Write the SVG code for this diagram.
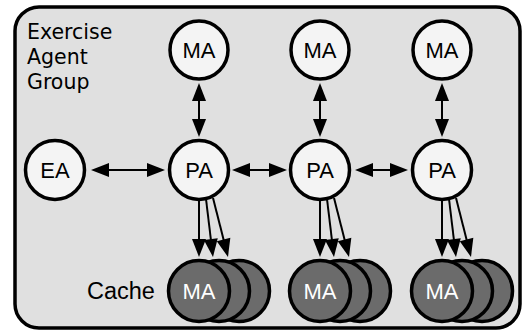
<svg xmlns="http://www.w3.org/2000/svg" width="527" height="334" viewBox="0 0 527 334">
  <style>
    .group-box { fill: #e0e0e0; stroke: #000; stroke-width: 3.5; }
    .agent { fill: #f4f4f4; stroke: #000; stroke-width: 3.5; }
    .cached { fill: #6b6b6b; stroke: #000; stroke-width: 3.5; }
    .label { font-family: "Liberation Sans", Arial, sans-serif; font-size: 22px; text-anchor: middle; fill: #000; }
    .label-light { fill: #fff; }
    .title { font-family: "DejaVu Sans", sans-serif; font-size: 20.5px; fill: #000; }
    .cache-text { font-family: "Liberation Sans", Arial, sans-serif; font-size: 23.5px; fill: #000; }
    .link { stroke: #000; stroke-width: 2; fill: none; }
    .both { marker-start: url(#head); marker-end: url(#head); }
    .one { marker-end: url(#head); }
  </style>
  <defs>
    <marker id="head" markerUnits="userSpaceOnUse" markerWidth="20" markerHeight="16" refX="14" refY="7" orient="auto-start-reverse" overflow="visible">
      <path d="M0,0 L18,7 L0,14 z" fill="#000"/>
    </marker>
  </defs>

  <!-- enclosing group -->
  <rect class="group-box" x="15" y="7" width="505" height="321" rx="24" ry="24"/>
  <text class="title" x="27" y="39">Exercise</text>
  <text class="title" x="27" y="64">Agent</text>
  <text class="title" x="27" y="89">Group</text>
  <text class="cache-text" x="87" y="299">Cache</text>

  <!-- connectors -->
  <g id="connectors">
    <!-- MA <-> PA -->
    <line class="link both" x1="199" y1="87" x2="199" y2="133"/>
    <line class="link both" x1="320" y1="87" x2="320" y2="133"/>
    <line class="link both" x1="442" y1="87" x2="442" y2="133"/>
    <!-- horizontal links -->
    <line class="link both" x1="95" y1="170" x2="161" y2="170"/>
    <line class="link both" x1="236" y1="170" x2="283" y2="170"/>
    <line class="link both" x1="359" y1="170" x2="404" y2="170"/>
    <!-- PA -> cache, column 1 -->
    <line class="link one" x1="199" y1="199" x2="199" y2="253"/>
    <line class="link one" x1="206" y1="199" x2="212.5" y2="253"/>
    <line class="link one" x1="213" y1="198" x2="227" y2="253.1"/>
    <!-- PA -> cache, column 2 -->
    <line class="link one" x1="320" y1="199" x2="320" y2="253"/>
    <line class="link one" x1="327" y1="199" x2="333.5" y2="253"/>
    <line class="link one" x1="334" y1="198" x2="348" y2="253.1"/>
    <!-- PA -> cache, column 3 -->
    <line class="link one" x1="442" y1="199" x2="442" y2="253"/>
    <line class="link one" x1="449" y1="199" x2="455.5" y2="253"/>
    <line class="link one" x1="456" y1="198" x2="470" y2="253.1"/>
  </g>

  <!-- agents -->
  <g id="ea">
    <circle class="agent" cx="55" cy="170" r="29.5"/>
    <text class="label" x="55" y="178">EA</text>
  </g>
  <g id="ma-1">
    <circle class="agent" cx="199" cy="50" r="29"/>
    <text class="label" x="199" y="58">MA</text>
  </g>
  <g id="ma-2">
    <circle class="agent" cx="320" cy="50" r="29"/>
    <text class="label" x="320" y="58">MA</text>
  </g>
  <g id="ma-3">
    <circle class="agent" cx="442" cy="50" r="29"/>
    <text class="label" x="442" y="58">MA</text>
  </g>
  <g id="pa-1">
    <circle class="agent" cx="199" cy="170" r="29.5"/>
    <text class="label" x="199" y="178">PA</text>
  </g>
  <g id="pa-2">
    <circle class="agent" cx="320" cy="170" r="29.5"/>
    <text class="label" x="320" y="178">PA</text>
  </g>
  <g id="pa-3">
    <circle class="agent" cx="442" cy="170" r="29.5"/>
    <text class="label" x="442" y="178">PA</text>
  </g>

  <!-- cached mobile agents -->
  <g id="cache-1">
    <circle class="cached" cx="239" cy="291" r="30.5"/>
    <circle class="cached" cx="219" cy="291" r="30.5"/>
    <circle class="cached" cx="199" cy="291" r="30.5"/>
    <text class="label label-light" x="199" y="299">MA</text>
  </g>
  <g id="cache-2">
    <circle class="cached" cx="360" cy="291" r="30.5"/>
    <circle class="cached" cx="340" cy="291" r="30.5"/>
    <circle class="cached" cx="320" cy="291" r="30.5"/>
    <text class="label label-light" x="320" y="299">MA</text>
  </g>
  <g id="cache-3">
    <circle class="cached" cx="482" cy="291" r="30.5"/>
    <circle class="cached" cx="462" cy="291" r="30.5"/>
    <circle class="cached" cx="442" cy="291" r="30.5"/>
    <text class="label label-light" x="442" y="299">MA</text>
  </g>
</svg>
